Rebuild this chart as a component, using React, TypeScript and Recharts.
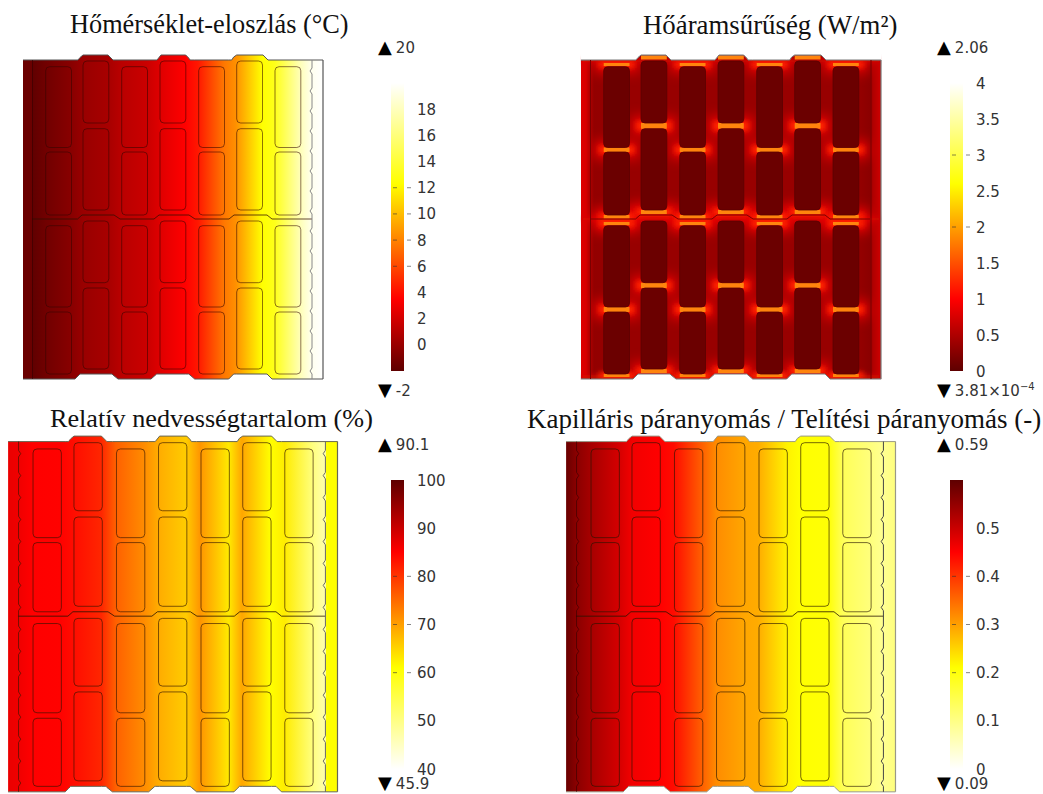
import { Area, Bar, BarChart, ComposedChart, Line, ReferenceArea, ReferenceLine, XAxis, YAxis } from 'recharts';

// colormap (fraction -> colour)
const CMAP_STOPS = [0, 0.25, 0.65, 1];
const CMAP_RGB = [[94, 0, 0], [255, 0, 0], [255, 255, 0], [255, 255, 255]];

// wall outline, in wall units
const WALL_X = [0, 52, 55, 57, 60, 85, 89, 90, 95, 128, 133.7, 134, 138, 162.7, 165.7, 167, 171.7, 205.7, 208.7, 210.7, 213.7, 240, 244, 245, 249, 300];
const WALL_TOP = [0, 0, 0, -2.5, -5, -5, -1, 0, 0, 0, 0, 0, -5, -5, -2, 0, 0, 0, 0, -3, -5, -5, -1, 0, 0, 0];
const WALL_BOTTOM = [319, 319, 316, 314, 314, 314, 314, 315, 319, 319, 314, 314, 314, 314, 314, 315, 319, 319, 316, 314, 314, 314, 314, 315, 319, 319];

// bricks
const ODD_X = [22.7, 98.7, 175.7, 252];
const EVEN_X = [60, 137, 213.7];
const BRICK_W = 25.8;
const ODD_ROWS = [[6.7, 87.5], [92, 155], [165.7, 247], [252, 314]];
const EVEN_ROWS = [[1, 63], [68.7, 150], [161, 222.7], [228, 309]];

// joints that carry the heat flux
const ODD_JOINTS = [[3, 6], [87.5, 92], [155, 158.5], [162, 165.2], [247, 252], [314, 317]];
const EVEN_JOINTS = [[-4.5, -0.5], [63, 68.7], [150, 154], [222.7, 228], [309, 313]];
const RIM_BANDS = [[-1, 3], [157, 161], [315, 320]];

// mortar line in the middle
const MID_X = [9, 54.5, 59, 91, 97, 131, 136, 166, 172, 206, 211, 244, 249, 289];
const MID_Y = [159, 159, 155, 155, 159, 159, 155, 155, 159, 159, 155, 155, 159, 159];

// plaster line with its small bumps
const SCALLOP_Y = [0, 8, 11, 14, 28, 31, 34, 48, 51, 54, 68, 71, 74, 88, 91, 94, 108, 111, 114, 128, 131, 134, 148, 151, 154, 168, 171, 174, 188, 191, 194, 208, 211, 214, 228, 231, 234, 248, 251, 254, 268, 271, 274, 288, 291, 294, 308, 311, 314, 319];
const STRAIGHT_Y = [0, 319];

// horizontal profiles
const TEMP_X = [0, 9, 10, 22, 48, 60, 86, 98, 124, 137, 162, 175, 201, 213, 239, 252, 277, 289, 300];
const TEMP_V = [-1.55, -1.6, -1.9, -1.4, -0.57, 0, 0.53, 1.1, 1.7, 2.4, 3.5, 4.3, 7.6, 8.5, 12.3, 13.1, 17.8, 19.5, 20];
const FLUX_X = [0, 5, 9, 13, 50, 58, 88, 96, 127, 135, 165, 173, 204, 212, 242, 250, 280, 289, 292, 300];
const FLUX_V = [0.8, 0.75, 0.5, 0.33, 0.36, 0.36, 0.36, 0.36, 0.36, 0.36, 0.36, 0.36, 0.36, 0.36, 0.36, 0.36, 0.33, 0.28, 0.5, 0.7];
const RH_X = [0, 9, 22, 48, 60, 85, 98, 124, 137, 162, 175, 201, 213, 239, 252, 277, 289, 290, 300];
const RH_V = [87, 86.5, 85, 84.8, 83.8, 81.4, 76, 71.8, 68.8, 65.8, 71, 63, 69.4, 61, 62.8, 50.8, 46.6, 61, 61];
const PV_X = [0, 9, 22, 48, 60, 85, 98, 124, 137, 162, 175, 201, 213, 239, 252, 277, 289, 300];
const PV_V = [0.59, 0.56, 0.534, 0.49, 0.462, 0.45, 0.44, 0.36, 0.318, 0.294, 0.288, 0.222, 0.21, 0.205, 0.138, 0.108, 0.09, 0.108];

// colour bar ticks
const TEMP_TICKS = [0, 2, 4, 6, 8, 10, 12, 14, 16, 18];
const TEMP_MARKS = [6, 8, 10, 12];
const FLUX_TICKS = [0, 0.5, 1, 1.5, 2, 2.5, 3, 3.5, 4];
const FLUX_MARKS = [2, 3];
const RH_TICKS = [40, 50, 60, 70, 80, 90, 100];
const RH_MARKS = [60, 70, 80];
const PV_TICKS = [0, 0.1, 0.2, 0.3, 0.4, 0.5];
const PV_MARKS = [0.2, 0.3, 0.4];

const SERIF = '"Liberation Serif", serif';
const SANS = '"DejaVu Sans", sans-serif';

function cmap(f: number) {
  const t = Math.max(0, Math.min(1, f));
  let i = 0;
  while (i < 2 && t > CMAP_STOPS[i + 1]) i++;
  const k = (t - CMAP_STOPS[i]) / (CMAP_STOPS[i + 1] - CMAP_STOPS[i]);
  const c = CMAP_RGB[i].map((a, j) => Math.round(a + (CMAP_RGB[i + 1][j] - a) * k));
  return `rgb(${c[0]},${c[1]},${c[2]})`;
}

const wallData = WALL_X.map((x, i) => ({ x, range: [WALL_TOP[i], WALL_BOTTOM[i]], top: WALL_TOP[i], bottom: WALL_BOTTOM[i] }));
// white above and below the wall, hides the glow that spills out of it
const skyData = WALL_X.map((x, i) => ({ x, range: [-6, WALL_TOP[i]] }));
const groundData = WALL_X.map((x, i) => ({ x, range: [WALL_BOTTOM[i], 320] }));
const midData = MID_X.map((x, i) => ({ x, y: MID_Y[i] }));

function lineData(ys: number[], x: number, bump: number) {
  return ys.map((y, i) => ({ x: i > 0 && i % 3 === 2 ? x + bump : x, y }));
}

function Wall({ id, left, top, scale, xs, vs, min, max, flip, edge, brickStroke, scallopLeft, scallopRight, plasterLeft, plasterRight, mortar, glow }: {
  id: string; left: number; top: number; scale: number; xs: number[]; vs: number[]; min: number; max: number;
  flip?: boolean; edge: string; brickStroke: string; scallopLeft?: boolean; scallopRight?: boolean;
  plasterLeft: string; plasterRight: string; mortar: string; glow?: boolean;
}) {
  const frac = (v: number) => (flip ? (max - v) / (max - min) : (v - min) / (max - min));
  const bricks = [
    ...ODD_X.flatMap((x) => ODD_ROWS.map((r) => [x, r[0], r[1]])),
    ...EVEN_X.flatMap((x) => EVEN_ROWS.map((r) => [x, r[0], r[1]])),
  ];
  const joints = [
    ...ODD_X.flatMap((x) => ODD_JOINTS.map((r) => [x, r[0], r[1]])),
    ...EVEN_X.flatMap((x) => EVEN_JOINTS.map((r) => [x, r[0], r[1]])),
  ];
  return (
    <div style={{ position: 'absolute', left, top }}>
      <ComposedChart width={302 * scale} height={326 * scale} margin={{ top: 0, right: 0, bottom: 0, left: 0 }}>
        <defs>
          <linearGradient id={id} x1="0" y1="0" x2="1" y2="0">
            {xs.map((x, i) => <stop key={i} offset={x / 300} stopColor={cmap(frac(vs[i]))} />)}
          </linearGradient>
          <filter id={id + 'w'} x="-60%" y="-300%" width="220%" height="700%">
            <feGaussianBlur stdDeviation={6} />
          </filter>
          <filter id={id + 'b'} x="-60%" y="-300%" width="220%" height="700%">
            <feGaussianBlur stdDeviation={2.5} />
          </filter>
          <filter id={id + 'c'} x="-30%" y="-100%" width="160%" height="300%">
            <feGaussianBlur stdDeviation={0.6} />
          </filter>
        </defs>
        <XAxis dataKey="x" type="number" domain={[-1, 301]} hide />
        <YAxis type="number" domain={[-6, 320]} reversed hide />
        <Area data={wallData} dataKey="range" type="linear" stroke={edge} strokeWidth={1} fill={`url(#${id})`} fillOpacity={1} isAnimationActive={false} dot={false} activeDot={false} />
        {glow && RIM_BANDS.map((r, i) => (
          <ReferenceArea key={'r' + i} x1={2} x2={298} y1={r[0]} y2={r[1]} fill="#d81000" fillOpacity={0.9} stroke="none" filter={`url(#${id}b)`} />
        ))}
        {glow && joints.map((j, i) => (
          <ReferenceArea key={'w' + i} x1={j[0] - 10} x2={j[0] + BRICK_W + 10} y1={j[1] - 7} y2={j[2] + 7} fill="#e80000" fillOpacity={0.9} stroke="none" filter={`url(#${id}w)`} />
        ))}
        {glow && joints.map((j, i) => (
          <ReferenceArea key={'g' + i} x1={j[0] - 5} x2={j[0] + BRICK_W + 5} y1={j[1] - 2} y2={j[2] + 2} fill="#ff2000" fillOpacity={1} stroke="none" filter={`url(#${id}b)`} />
        ))}
        {glow && <Area data={skyData} dataKey="range" type="linear" stroke="none" fill="#fff" fillOpacity={1} isAnimationActive={false} dot={false} activeDot={false} />}
        {glow && <Area data={groundData} dataKey="range" type="linear" stroke="none" fill="#fff" fillOpacity={1} isAnimationActive={false} dot={false} activeDot={false} />}
        {glow && joints.map((j, i) => (
          <ReferenceArea key={'j' + i} x1={j[0]} x2={j[0] + BRICK_W} y1={j[1]} y2={j[2]} fill="#ff8410" fillOpacity={1} stroke="none" filter={`url(#${id}c)`} />
        ))}
        {glow && <Line data={wallData} dataKey="top" stroke={edge} strokeWidth={1} dot={false} activeDot={false} isAnimationActive={false} />}
        {glow && <Line data={wallData} dataKey="bottom" stroke={edge} strokeWidth={1} dot={false} activeDot={false} isAnimationActive={false} />}
        {bricks.map((b, i) => (
          <ReferenceArea key={'b' + i} x1={b[0]} x2={b[0] + BRICK_W} y1={b[1]} y2={b[2]} radius={4} fill={glow ? '#6b0000' : 'none'} fillOpacity={1} stroke={brickStroke} strokeWidth={0.8} strokeOpacity={1} />
        ))}
        <Line data={midData} dataKey="y" stroke={mortar} strokeWidth={1} dot={false} activeDot={false} isAnimationActive={false} />
        <Line data={scallopLeft ? lineData(SCALLOP_Y, 9.5, 2) : lineData(STRAIGHT_Y, 9.5, 0)} dataKey="y" stroke={plasterLeft} strokeWidth={1} dot={false} activeDot={false} isAnimationActive={false} />
        <Line data={scallopRight ? lineData(SCALLOP_Y, 289, -2) : lineData(STRAIGHT_Y, 290, 0)} dataKey="y" stroke={plasterRight} strokeWidth={1} dot={false} activeDot={false} isAnimationActive={false} />
        <ReferenceLine segment={[{ x: 300, y: 0 }, { x: 300, y: 319 }]} stroke={edge} strokeWidth={1.2} />
      </ComposedChart>
    </div>
  );
}

function ScaleBar({ id, left, top, height, min, max, flip, ticks, marks }: {
  id: string; left: number; top: number; height: number; min: number; max: number; flip?: boolean; ticks: number[]; marks: number[];
}) {
  const data = [{ name: id, span: [min, max] }];
  const drawTick = (p: any) => {
    const v = p.payload.value;
    return (
      <g>
        {marks.includes(v) && <line x1={p.x - 19} x2={p.x - 15} y1={p.y} y2={p.y} stroke="#333" strokeOpacity={0.6} />}
        {marks.includes(v) && <line x1={p.x - 5} x2={p.x - 1} y1={p.y} y2={p.y} stroke="#333" strokeOpacity={0.6} />}
        <text x={p.x + 5} y={p.y + 5.5} fontFamily={SANS} fontSize={15} fill="#333">{v}</text>
      </g>
    );
  };
  return (
    <div style={{ position: 'absolute', left, top: top - 12 }}>
      <BarChart width={13 + 50} height={height + 24} data={data} margin={{ top: 12, right: 0, bottom: 12, left: 0 }} barCategoryGap={0}>
        <defs>
          <linearGradient id={id} x1="0" y1={flip ? '0' : '1'} x2="0" y2={flip ? '1' : '0'}>
            {CMAP_STOPS.map((s, i) => <stop key={i} offset={s} stopColor={cmap(s)} />)}
          </linearGradient>
        </defs>
        <XAxis dataKey="name" hide />
        <YAxis orientation="right" width={50} type="number" domain={[min, max]} ticks={ticks} interval={0} axisLine={false} tickLine={false} tick={drawTick} />
        <Bar dataKey="span" fill={`url(#${id})`} isAnimationActive={false} />
      </BarChart>
    </div>
  );
}

function Peak({ left, top, up, children }: { left: number; top: number; up: boolean; children: any }) {
  return (
    <div style={{ position: 'absolute', left, top, whiteSpace: 'nowrap', fontFamily: SANS, fontSize: 15, color: '#333', lineHeight: '14px' }}>
      <span style={{ fontSize: 18, lineHeight: '14px', color: '#000', marginRight: 4 }}>{up ? '▲' : '▼'}</span>
      {children}
    </div>
  );
}

function Title({ x, y, size, children }: { x: number; y: number; size: number; children: string }) {
  return (
    <div style={{ position: 'absolute', left: x, top: y, whiteSpace: 'nowrap', fontFamily: SERIF, fontSize: size, color: '#111', lineHeight: '24px' }}>
      {children}
    </div>
  );
}

export default function App() {
  return (
    <div style={{ position: 'absolute', left: 0, top: 0, width: 1043, height: 794, overflow: 'hidden', background: '#fff' }}>
      <Title x={70} y={13} size={26.3}>Hőmérséklet-eloszlás (°C)</Title>
      <Title x={643} y={13} size={26.8}>Hőáramsűrűség (W/m²)</Title>
      <Title x={50} y={407} size={26.2}>Relatív nedvességtartalom (%)</Title>
      <Title x={527} y={407} size={27}>Kapilláris páranyomás / Telítési páranyomás (-)</Title>

      <Wall id="wa" left={22} top={54} scale={1} xs={TEMP_X} vs={TEMP_V} min={-2} max={20} edge="#555" brickStroke="rgba(50,5,0,0.7)" scallopRight plasterLeft="rgba(50,0,0,0.6)" plasterRight="#888" mortar="rgba(50,15,0,0.75)" />
      <Wall id="wb" left={580} top={54} scale={1} xs={FLUX_X} vs={FLUX_V} min={0} max={4} edge="#777" brickStroke="#5a0000" plasterLeft="#7a0000" plasterRight="#7a0000" mortar="#7a0000" glow />
      <Wall id="wc" left={7} top={435} scale={1.098} xs={RH_X} vs={RH_V} min={40} max={100} flip edge="#665" brickStroke="rgba(50,20,0,0.8)" scallopLeft scallopRight plasterLeft="rgba(70,20,0,0.7)" plasterRight="#666" mortar="rgba(40,20,0,0.8)" />
      <Wall id="wd" left={565} top={435} scale={1.098} xs={PV_X} vs={PV_V} min={0} max={0.6} flip edge="#998" brickStroke="rgba(40,20,0,0.8)" scallopLeft scallopRight plasterLeft="rgba(50,0,0,0.6)" plasterRight="#444" mortar="rgba(40,20,0,0.8)" />

      <ScaleBar id="sa" left={391} top={83} height={288} min={-2} max={20} ticks={TEMP_TICKS} marks={TEMP_MARKS} />
      <ScaleBar id="sb" left={950} top={83} height={288} min={0} max={4} ticks={FLUX_TICKS} marks={FLUX_MARKS} />
      <ScaleBar id="sc" left={391} top={480} height={289} min={40} max={100} flip ticks={RH_TICKS} marks={RH_MARKS} />
      <ScaleBar id="sd" left={950} top={480} height={289} min={0} max={0.6} flip ticks={PV_TICKS} marks={PV_MARKS} />

      <Peak left={378} top={40} up>20</Peak>
      <Peak left={378} top={383} up={false}>-2</Peak>
      <Peak left={937} top={40} up>2.06</Peak>
      <Peak left={937} top={383} up={false}>3.81×10<sup style={{ fontSize: 10, lineHeight: 0 }}>−4</sup></Peak>
      <Peak left={378} top={437} up>90.1</Peak>
      <Peak left={378} top={776} up={false}>45.9</Peak>
      <Peak left={937} top={437} up>0.59</Peak>
      <Peak left={937} top={776} up={false}>0.09</Peak>
    </div>
  );
}
